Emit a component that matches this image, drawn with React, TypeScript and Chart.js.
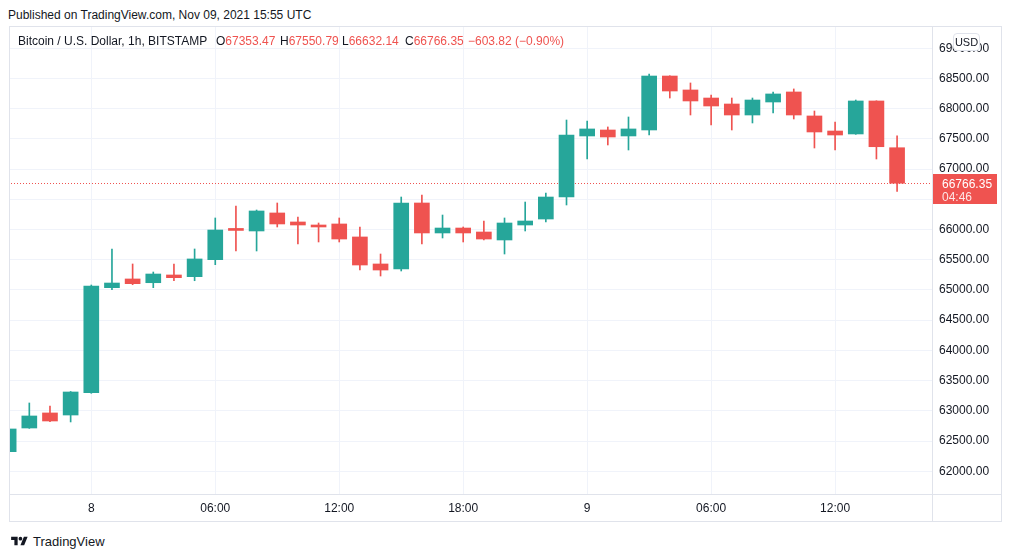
import React, { useEffect, useRef } from "react";
import { Chart, registerables } from "chart.js";

Chart.register(...registerables);

// Hourly candles, Nov 7 20:00 UTC -> Nov 9 15:00 UTC (BTC/USD, Bitstamp)
const opens = [
  62324, 62716, 62965, 62931, 63300, 65038, 65182, 65120, 65248, 65220,
  65501, 66000, 65976, 66274, 66125, 66075, 66092, 65877, 65430, 65347,
  66439, 65943, 66025, 65959, 65827, 66075, 66174, 66538, 67548, 67647,
  67548, 67647, 68540, 68309, 68176, 68077, 67895, 68110, 68276, 67879,
  67630, 67581, 68127, 67353.47,
];
const highs = [
  62720, 63130, 63080, 63320, 65082, 65678, 65430, 65297, 65430, 65678,
  66191, 66389, 66323, 66439, 66207, 66108, 66191, 66042, 65595, 66538,
  66571, 66240, 66042, 66141, 66191, 66455, 66605, 67812, 67796, 67697,
  67862, 68573, 68545, 68425, 68226, 68176, 68176, 68276, 68326, 67961,
  67779, 68143, 68130, 67550.79,
];
const lows = [
  62300, 62710, 62820, 62816, 63290, 65005, 65087, 65038, 65153, 65153,
  65418, 65645, 65645, 66042, 65761, 65794, 65794, 65330, 65231, 65314,
  65761, 65860, 65794, 65830, 65595, 65976, 66125, 66406, 67167, 67399,
  67316, 67564, 68176, 67895, 67730, 67647, 67763, 67929, 67829, 67349,
  67316, 67575, 67167, 66632.14,
];
const closes = [
  62700, 62915, 62832, 63312, 65066, 65115, 65104, 65264, 65203, 65513,
  65992, 65985, 66307, 66092, 66075, 66042, 65843, 65413, 65330, 66439,
  65943, 66025, 65943, 65843, 66108, 66141, 66538, 67564, 67664, 67531,
  67664, 68540, 68292, 68127, 68044, 67895, 68143, 68243, 67895, 67614,
  67564, 68127, 67370.17, 66766.35,
];

const xTickIndex = [4, 10, 16, 22, 28, 34, 40];
const xTickLabels = ["8", "06:00", "12:00", "18:00", "9", "06:00", "12:00"];
const yTickValues = [62000, 62500, 63000, 63500, 64000, 64500, 65000, 65500, 66000, 66500, 67000, 67500, 68000, 68500, 69000];

const UP = "#26a69a";
const DOWN = "#ef5350";
const TEXT = "#131722";
const FONT = "'Liberation Sans', Arial, sans-serif";

const n = closes.length;
const lastO = opens[n - 1];
const lastH = highs[n - 1];
const lastL = lows[n - 1];
const lastC = closes[n - 1];
const change = lastC - closes[n - 2];
const changePct = (change / closes[n - 2]) * 100;
const fmtSigned = (v: number) => (v < 0 ? "\u2212" + Math.abs(v).toFixed(2) : "+" + v.toFixed(2));

export default function App() {
  const canvasRef = useRef<HTMLCanvasElement | null>(null);

  useEffect(() => {
    if (!canvasRef.current) return;
    const colors = closes.map((c, i) => (c >= opens[i] ? UP : DOWN));

    const lastPricePlugin = {
      id: "lastPrice",
      beforeDatasetsDraw(chart: any) {
        const { ctx, chartArea } = chart;
        const y = Math.floor(chart.scales.y.getPixelForValue(lastC));
        ctx.save();
        ctx.fillStyle = colors[n - 1];
        for (let x = Math.floor(chartArea.left) + 1; x < chartArea.right; x += 3) {
          ctx.fillRect(x, y, 1, 1);
        }
        ctx.restore();
      },
      afterDraw(chart: any) {
        const { ctx, chartArea, width, height } = chart;
        ctx.save();
        // frame separators
        ctx.strokeStyle = "#e0e3eb";
        ctx.lineWidth = 1;
        ctx.beginPath();
        ctx.moveTo(0, Math.round(chartArea.bottom) + 0.5);
        ctx.lineTo(width, Math.round(chartArea.bottom) + 0.5);
        ctx.moveTo(Math.round(chartArea.right) + 0.5, 0);
        ctx.lineTo(Math.round(chartArea.right) + 0.5, height);
        ctx.stroke();
        // last price label
        const y = chart.scales.y.getPixelForValue(lastC);
        ctx.fillStyle = colors[n - 1];
        ctx.fillRect(chartArea.right + 1, Math.round(y - 9), 64, 30);
        ctx.fillStyle = "#ffffff";
        ctx.font = "12px " + FONT;
        ctx.textBaseline = "middle";
        ctx.textAlign = "left";
        ctx.fillText(lastC.toFixed(2), chartArea.right + 10, y + 1);
        ctx.fillStyle = "rgba(255,255,255,0.85)";
        ctx.fillText("04:46", chartArea.right + 10, y + 14);
        ctx.restore();
      },
    };

    const chart = new Chart(canvasRef.current, {
      type: "bar",
      data: {
        datasets: [
          {
            label: "wick",
            data: opens.map((_, i) => ({ x: i, y: [lows[i], highs[i]] })) as any,
            backgroundColor: colors,
            borderWidth: 0,
            barThickness: 1,
            grouped: false,
            order: 2,
          } as any,
          {
            label: "body",
            data: opens.map((o, i) => ({ x: i, y: [Math.min(o, closes[i]), Math.max(o, closes[i])] })) as any,
            backgroundColor: colors,
            borderWidth: 0,
            barThickness: 15,
            minBarLength: 2,
            grouped: false,
            order: 1,
          } as any,
        ],
      },
      options: {
        animation: false,
        responsive: true,
        maintainAspectRatio: false,
        devicePixelRatio: 1,
        layout: { padding: 0, autoPadding: false } as any,
        plugins: { legend: { display: false }, tooltip: { enabled: false } },
        scales: {
          x: {
            type: "linear",
            min: 0.065,
            max: 44.69,
            offset: false,
            grid: { color: "#f0f3fa", drawTicks: false, offset: false },
            border: { color: "#e0e3eb" },
            afterBuildTicks: (s: any) => {
              s.ticks = xTickIndex.map((v) => ({ value: v }));
            },
            afterFit: (s: any) => {
              s.height = 27;
              s.paddingLeft = 0;
              s.paddingRight = 0;
            },
            ticks: {
              padding: 7,
              maxRotation: 0,
              autoSkip: false,
              color: TEXT,
              font: { family: FONT, size: 12 },
              callback: (v: any) => {
                const k = xTickIndex.indexOf(Number(v));
                return k >= 0 ? xTickLabels[k] : "";
              },
            },
          },
          y: {
            position: "right",
            min: 61624,
            max: 69351,
            grid: { color: "#f0f3fa", drawTicks: false },
            border: { color: "#e0e3eb" },
            afterBuildTicks: (s: any) => {
              s.ticks = yTickValues.map((v) => ({ value: v }));
            },
            afterFit: (s: any) => {
              s.width = 69;
              s.paddingTop = 0;
              s.paddingBottom = 0;
            },
            ticks: {
              padding: 7,
              color: TEXT,
              font: { family: FONT, size: 12 },
              callback: (v: any) => Number(v).toFixed(2),
            },
          },
        },
      } as any,
      plugins: [lastPricePlugin],
    });
    return () => chart.destroy();
  }, []);

  const abs = (l: number, t: number): React.CSSProperties => ({ position: "absolute", left: l, top: t, whiteSpace: "nowrap" });

  return (
    <div style={{ position: "absolute", left: 0, top: 0, width: 1012, height: 558, background: "#fff", fontFamily: FONT, color: TEXT }}>
      <div style={{ ...abs(8, 8), fontSize: 12 }}>Published on TradingView.com, Nov 09, 2021 15:55 UTC</div>
      <div style={{ position: "absolute", left: 9, top: 26, width: 993, height: 496, border: "1px solid #e0e3eb", boxSizing: "border-box" }}>
        <div style={{ position: "absolute", left: 0, top: 0, width: 991, height: 494 }}>
          <canvas ref={canvasRef} />
        </div>
      </div>
      <div style={{ ...abs(18, 34), fontSize: 12 }}>Bitcoin / U.S. Dollar, 1h, BITSTAMP</div>
      <div style={{ ...abs(216, 34), fontSize: 12 }}>O<span style={{ color: DOWN }}>{lastO.toFixed(2)}</span></div>
      <div style={{ ...abs(280, 34), fontSize: 12 }}>H<span style={{ color: DOWN }}>{lastH.toFixed(2)}</span></div>
      <div style={{ ...abs(342, 34), fontSize: 12 }}>L<span style={{ color: DOWN }}>{lastL.toFixed(2)}</span></div>
      <div style={{ ...abs(405, 34), fontSize: 12 }}>C<span style={{ color: DOWN }}>{lastC.toFixed(2)}</span></div>
      <div style={{ ...abs(468, 34), fontSize: 12, color: DOWN }}>
        {fmtSigned(change)} ({changePct < 0 ? "\u2212" : "+"}{Math.abs(changePct).toFixed(2)}%)
      </div>
      <div style={{ position: "absolute", left: 953, top: 33, width: 27, height: 18, border: "1px solid #e0e3eb", borderRadius: 4, background: "#fff", boxSizing: "border-box", fontSize: 11, lineHeight: "16px", textAlign: "center" }}>USD</div>
      <div style={{ position: "absolute", left: 10, top: 534, display: "flex", alignItems: "center" }}>
        <svg width="19" height="13" viewBox="0 0 36 28" style={{ display: "block" }}>
          <path d="M14 22H7V11H0V4h14v18zM28 22h-8l7.5-18h8L28 22z" fill={TEXT} />
          <circle cx="20" cy="8" r="4" fill={TEXT} />
        </svg>
        <span style={{ marginLeft: 4, fontSize: 13 }}>TradingView</span>
      </div>
    </div>
  );
}
